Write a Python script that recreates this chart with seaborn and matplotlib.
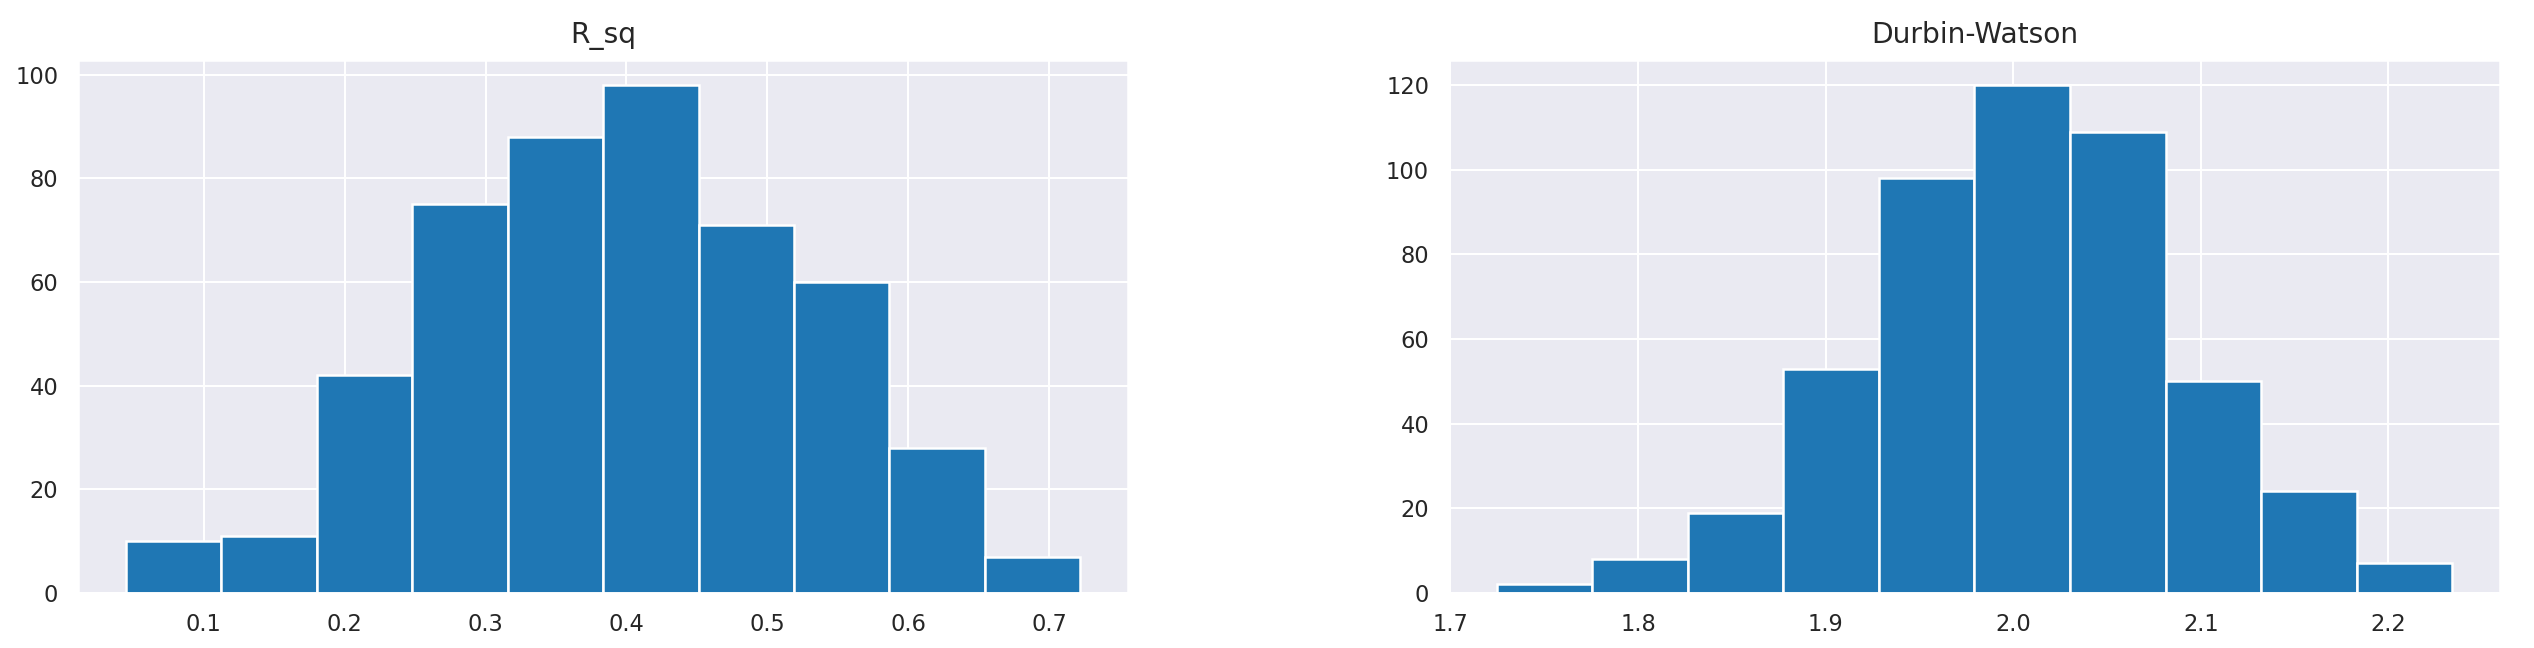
import matplotlib
matplotlib.use('Agg')
import matplotlib.pyplot as plt
import numpy as np
import pandas as pd
import seaborn as sns

sns.set_theme(style="darkgrid")

# histogram counts (10 bins each)
rsq_counts = [10, 11, 42, 75, 88, 98, 71, 60, 28, 7]
rsq_range = (0.0447, 0.7222)

dw_counts = [2, 8, 19, 53, 98, 120, 109, 50, 24, 7]
dw_range = (1.7247, 2.2340)

panels = [
    ("R_sq", rsq_counts, rsq_range),
    ("Durbin-Watson", dw_counts, dw_range),
]

fig = plt.figure(figsize=(2534 / 150, 648 / 150), dpi=150)
ax_rsq = fig.add_axes([0.0308, 0.085, 0.4144, 0.823])
ax_dw = fig.add_axes([0.5718, 0.085, 0.4148, 0.823])

for ax, (name, counts, (lo, hi)) in zip([ax_rsq, ax_dw], panels):
    edges = np.linspace(lo, hi, len(counts) + 1)
    df = pd.DataFrame({"x": (edges[:-1] + edges[1:]) / 2, "n": counts})
    sns.histplot(data=df, x="x", weights="n", bins=list(edges), ax=ax,
                 color="#1f77b4", alpha=1, edgecolor="white", linewidth=1.2)
    ax.set_title(name, fontsize=13.5, pad=8)
    ax.set_xlabel("")
    ax.set_ylabel("")
    ax.tick_params(labelsize=10.8)
    ax.set_ylim(0, max(counts) * 1.05)

ax_rsq.set_xticks([0.1, 0.2, 0.3, 0.4, 0.5, 0.6, 0.7])
ax_dw.set_xticks([1.7, 1.8, 1.9, 2.0, 2.1, 2.2])
ax_dw.set_yticks([0, 20, 40, 60, 80, 100, 120])

fig.savefig("out.png", dpi=150)
